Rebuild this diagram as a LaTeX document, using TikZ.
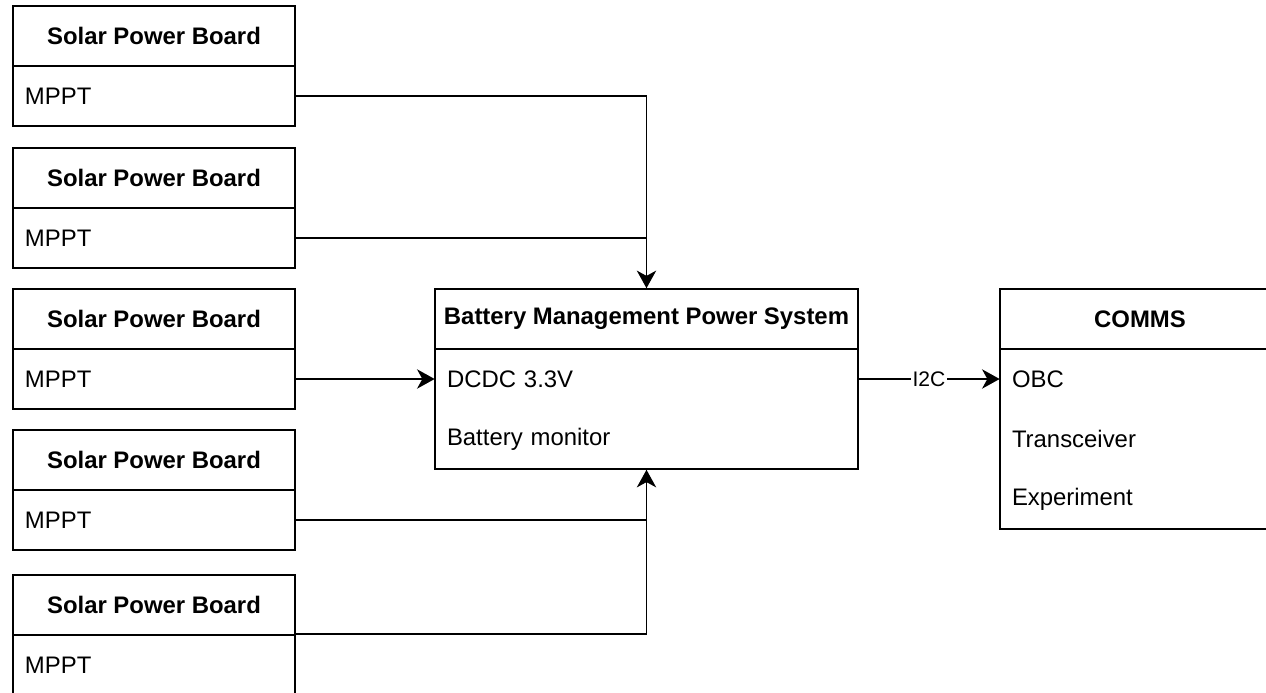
\documentclass[tikz,border=0pt]{standalone}
\usepackage{fontspec}
\setmainfont{Liberation Sans}
\usetikzlibrary{arrows.meta}

\begin{document}
\begin{tikzpicture}[font=\fontsize{13.6}{16}\selectfont,
  box/.style={draw=black,line width=.9pt,minimum width=#1,minimum height=1.2cm,inner sep=0pt},
  title/.style={box=#1,font=\fontsize{13.6}{16}\selectfont\bfseries},
  row/.style={text width=#1,inner xsep=.24cm,inner ysep=0pt,minimum height=1.2cm,align=left},
  link/.style={line width=1pt,draw=black},
  tip/.style={-{Stealth[length=10pt,width=11pt,inset=3pt]}}]
\useasboundingbox (0,0) rectangle (25.32,-13.86);
% solar power boards
\node[title=5.64cm] (sb1h) at (3.08,-.72) {Solar Power Board};
\node[box=5.64cm,row=5.16cm] (sb1m) at (3.08,-1.92) {MPPT};
\node[title=5.64cm] (sb2h) at (3.08,-3.56) {Solar Power Board};
\node[box=5.64cm,row=5.16cm] (sb2m) at (3.08,-4.76) {MPPT};
\node[title=5.64cm] (sb3h) at (3.08,-6.38) {Solar Power Board};
\node[box=5.64cm,row=5.16cm] (sb3m) at (3.08,-7.58) {MPPT};
\node[title=5.64cm] (sb4h) at (3.08,-9.20) {Solar Power Board};
\node[box=5.64cm,row=5.16cm] (sb4m) at (3.08,-10.40) {MPPT};
\node[title=5.64cm] (sb5h) at (3.08,-12.10) {Solar Power Board};
\node[box=5.64cm,row=5.16cm] (sb5m) at (3.08,-13.30) {MPPT};
% battery management
\node[title=8.46cm] (bmh) at (12.93,-6.38) {Battery Management Power System};
\node[box=8.46cm,minimum height=2.4cm] (bmb) at (12.93,-8.18) {};
\node[row=7.98cm] (bm1) at (12.93,-7.58) {DCDC 3.3V};
\node[row=7.98cm] (bm2) at (12.93,-8.78) {Battery monitor};
% comms
\node[title=5.6cm] (cmh) at (22.80,-6.38) {COMMS};
\node[box=5.6cm,minimum height=3.6cm] (cmb) at (22.80,-8.78) {};
\node[row=5.12cm] (cm1) at (22.80,-7.58) {OBC};
\node[row=5.12cm] (cm2) at (22.80,-8.78) {Transceiver};
\node[row=5.12cm] (cm3) at (22.80,-9.98) {Experiment};
% connections
\draw[link,tip] (sb1m.east) -| (bmh.north);
\draw[link] (sb2m.east) -| (bmh.north);
\draw[link,tip] (sb3m.east) -- (bm1.west);
\draw[link,tip] (sb4m.east) -| (bmb.south);
\draw[link] (sb5m.north east) -| (bmb.south);
\draw[link,tip] (bm1.east) -- node[fill=white,inner sep=1pt,font=\fontsize{12}{14}\selectfont] (i2c) {I2C} (cm1.west);
\end{tikzpicture}
\end{document}
